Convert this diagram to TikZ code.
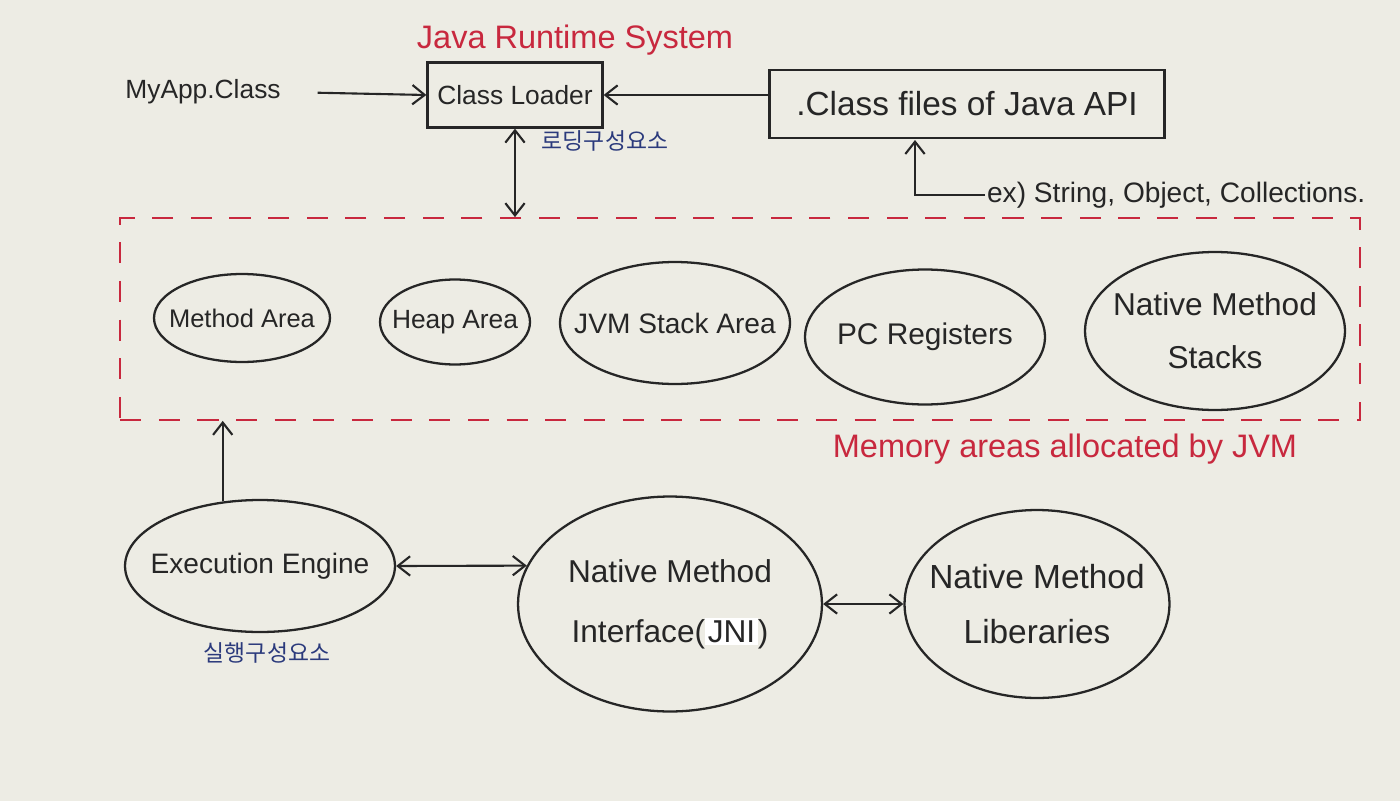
\documentclass[tikz,border=0pt]{standalone}
\usepackage{fontspec}
\setmainfont{Liberation Sans}
\newfontfamily\krfont{Noto Sans CJK KR}
\usetikzlibrary{shapes.geometric,arrows.meta}
\definecolor{paper}{HTML}{EDECE4}
\definecolor{ink}{HTML}{262626}
\definecolor{redink}{HTML}{C8283E}
\definecolor{blueink}{HTML}{2B3A7C}
\begin{document}
\begin{tikzpicture}[x=0.02cm,y=-0.02cm,
  >={Straight Barb[length=7pt,width=11pt]},
  area/.style={ellipse, draw=ink, line width=1.3pt, inner sep=0pt, align=center, text=ink, font=\fontsize{15}{18}\selectfont},
  bigarea/.style={area, font=\fontsize{18}{33}\selectfont},
  blk/.style={rectangle, draw=ink, line width=1.3pt, inner sep=0pt, text=ink, font=\fontsize{15}{18}\selectfont},
  txt/.style={text=ink, inner sep=1pt, font=\fontsize{15}{18}\selectfont},
  redlbl/.style={text=redink, inner sep=1pt, font=\fontsize{18.5}{22}\selectfont},
  krlbl/.style={text=blueink, inner sep=1pt, font=\krfont\fontsize{13}{15}\selectfont},
  memarea/.style={rectangle, draw=redink, dash pattern=on 12pt off 10pt, line width=1pt, inner sep=0pt},
  conn/.style={draw=ink, line width=1.2pt}
]
% paper and bounds
\fill[paper] (0,0) rectangle (1400,801);
\useasboundingbox (0,0) rectangle (1400,801);

% top part
\node[redlbl] (title) at (575,40) {Java Runtime System};
\node[blk, minimum width=3.5cm, minimum height=1.3cm] (loader) at (515,95) {Class Loader};
\node[txt] (myapp) at (203,92) {MyApp.Class};
\node[blk, font=\fontsize{19}{22}\selectfont, minimum width=7.9cm, minimum height=1.36cm] (files) at (967,104) {.Class files of Java API};
\node[txt, font=\fontsize{16}{19}\selectfont, anchor=west] (ex) at (985,195) {ex) String, Object, Collections.};
\node[krlbl] (loadkr) at (605,141) {로딩구성요소};
\coordinate (exup) at (915,140);

% memory area
\node[memarea, minimum width=24.8cm, minimum height=4.04cm] (mem) at (740,319) {};
\node[redlbl] (memlbl) at (1065,449) {Memory areas allocated by JVM};

\node[area, font=\fontsize{14.5}{17}\selectfont, inner xsep=-0.3cm, minimum width=3.52cm, minimum height=1.76cm] (method) at (242,318) {Method Area};
\node[area, inner xsep=-0.2cm, minimum width=3.0cm, minimum height=1.7cm] (heap) at (455,322) {Heap Area};
\node[area, font=\fontsize{16}{19}\selectfont, inner xsep=-0.5cm, minimum width=4.6cm, minimum height=2.44cm] (stack) at (675,323) {JVM Stack Area};
\node[area, font=\fontsize{17}{20}\selectfont, inner xsep=-0.1cm, minimum width=4.8cm, minimum height=2.7cm] (pc) at (925,337) {PC Registers};
\node[bigarea, font=\fontsize{18}{30}\selectfont, inner xsep=-0.5cm, inner ysep=-0.2cm, minimum width=5.2cm, minimum height=3.16cm] (nstack) at (1215,331) {Native Method\\Stacks};

% bottom part
\node[area, font=\fontsize{16}{19}\selectfont, inner xsep=-0.4cm, minimum width=5.4cm, minimum height=2.64cm] (exec) at (260,566) {Execution Engine};
\node[krlbl] (execkr) at (267,653) {실행구성요소};
\node[bigarea, font=\fontsize{18}{34}\selectfont, minimum width=6.08cm, minimum height=4.3cm] (jni) at (670,604) {Native Method\\Interface({\setlength{\fboxsep}{1.5pt}\colorbox{white}{JNI}})};
\node[bigarea, font=\fontsize{19}{31}\selectfont, inner xsep=-0.4cm, minimum width=5.3cm, minimum height=3.76cm] (libs) at (1037,604) {Native Method\\Liberaries};

% connectors
\draw[conn, ->, shorten <=0.7cm] (myapp.east) -- (loader.west);
\draw[conn, ->] (files.west |- loader.east) -- (loader.east);
\draw[conn, ->] (ex.west) -| (exup);
\draw[conn, <->] (loader.south) -- (loader.south |- mem.north);
\draw[conn, ->] (exec.120) -- (exec.120 |- mem.south);
\draw[conn, <->] (exec.east) -- (jni.165);
\draw[conn, <->] (jni.east) -- (libs.west);
\end{tikzpicture}
\end{document}
